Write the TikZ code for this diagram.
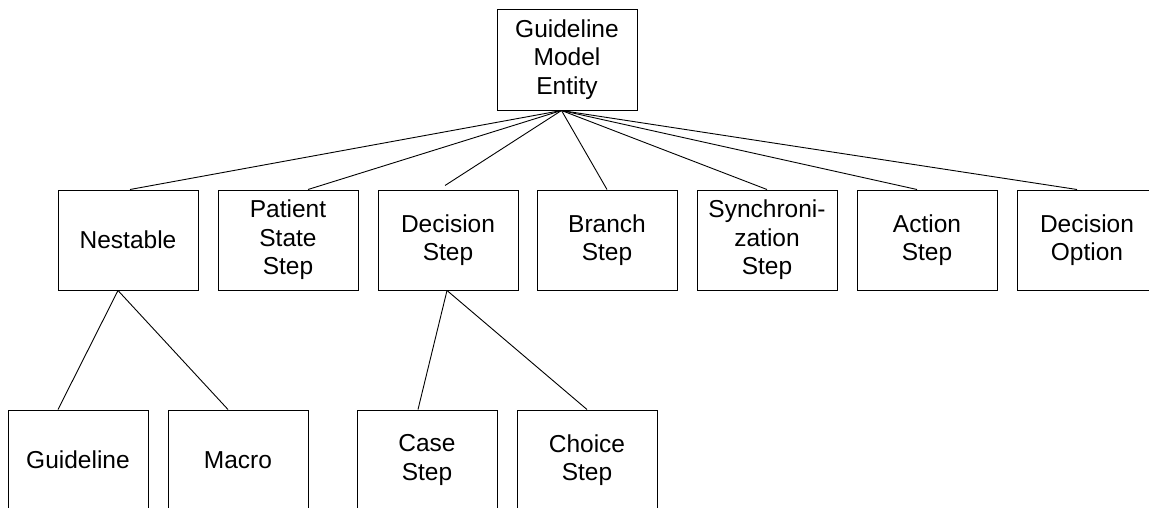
\documentclass[tikz,border=0pt]{standalone}
\usepackage{fontspec}
\setmainfont{Liberation Sans}
\usetikzlibrary{calc}
\begin{document}
\begin{tikzpicture}[x=1pt,y=-1pt,
  box/.style={draw, line width=1pt, rectangle, minimum width=140pt, minimum height=100pt,
    inner sep=0pt, align=center, font=\fontsize{24.5}{28.5}\selectfont},
  link/.style={line width=0.9pt}]
\useasboundingbox (0,0) rectangle (1149,507);
\clip (0,0) rectangle (1149,507);
% top
\node[box, minimum height=101pt] (gme) at (567,59.5) {Guideline\\Model\\Entity};
% middle row
\node[box] (nest) at (128,240) {Nestable};
\node[box] (pss)  at (288,240) {Patient\\State\\Step};
\node[box] (dec)  at (448,240) {Decision\\Step};
\node[box] (bra)  at (607,240) {Branch\\Step};
\node[box] (syn)  at (767,240) {Synchroni-\\zation\\Step};
\node[box] (act)  at (927,240) {Action\\Step};
\node[box] (opt)  at (1087,240) {Decision\\Option};
% bottom row
\node[box] (gl)   at (78,460)  {Guideline};
\node[box] (mac)  at (238,460) {Macro};
\node[box] (cas)  at (427,460) {Case\\Step};
\node[box] (cho)  at (587,460) {Choice\\Step};
% connectors
\coordinate (hub) at ($(gme.south)+(-5.5,0)$);
\draw[link] (hub) -- ($(nest.north)+(2,0)$);
\draw[link] (hub) -- ($(pss.north)+(20,0)$);
\draw[link] (hub) -- ($(dec.north)+(-3,-4)$);
\draw[link] (hub) -- (bra.north);
\draw[link] (hub) -- (syn.north);
\draw[link] (hub) -- ($(act.north)+(-10,0)$);
\draw[link] (hub) -- ($(opt.north)+(-10,0)$);
\coordinate (nestb) at ($(nest.south)+(-10,0)$);
\draw[link] (nestb) -- ($(gl.north)+(-20,0)$);
\draw[link] (nestb) -- ($(mac.north)+(-10,0)$);
\coordinate (decb) at ($(dec.south)+(-1,0)$);
\draw[link] (decb) -- ($(cas.north)+(-9,0)$);
\draw[link] (decb) -- (cho.north);
\end{tikzpicture}
\end{document}
